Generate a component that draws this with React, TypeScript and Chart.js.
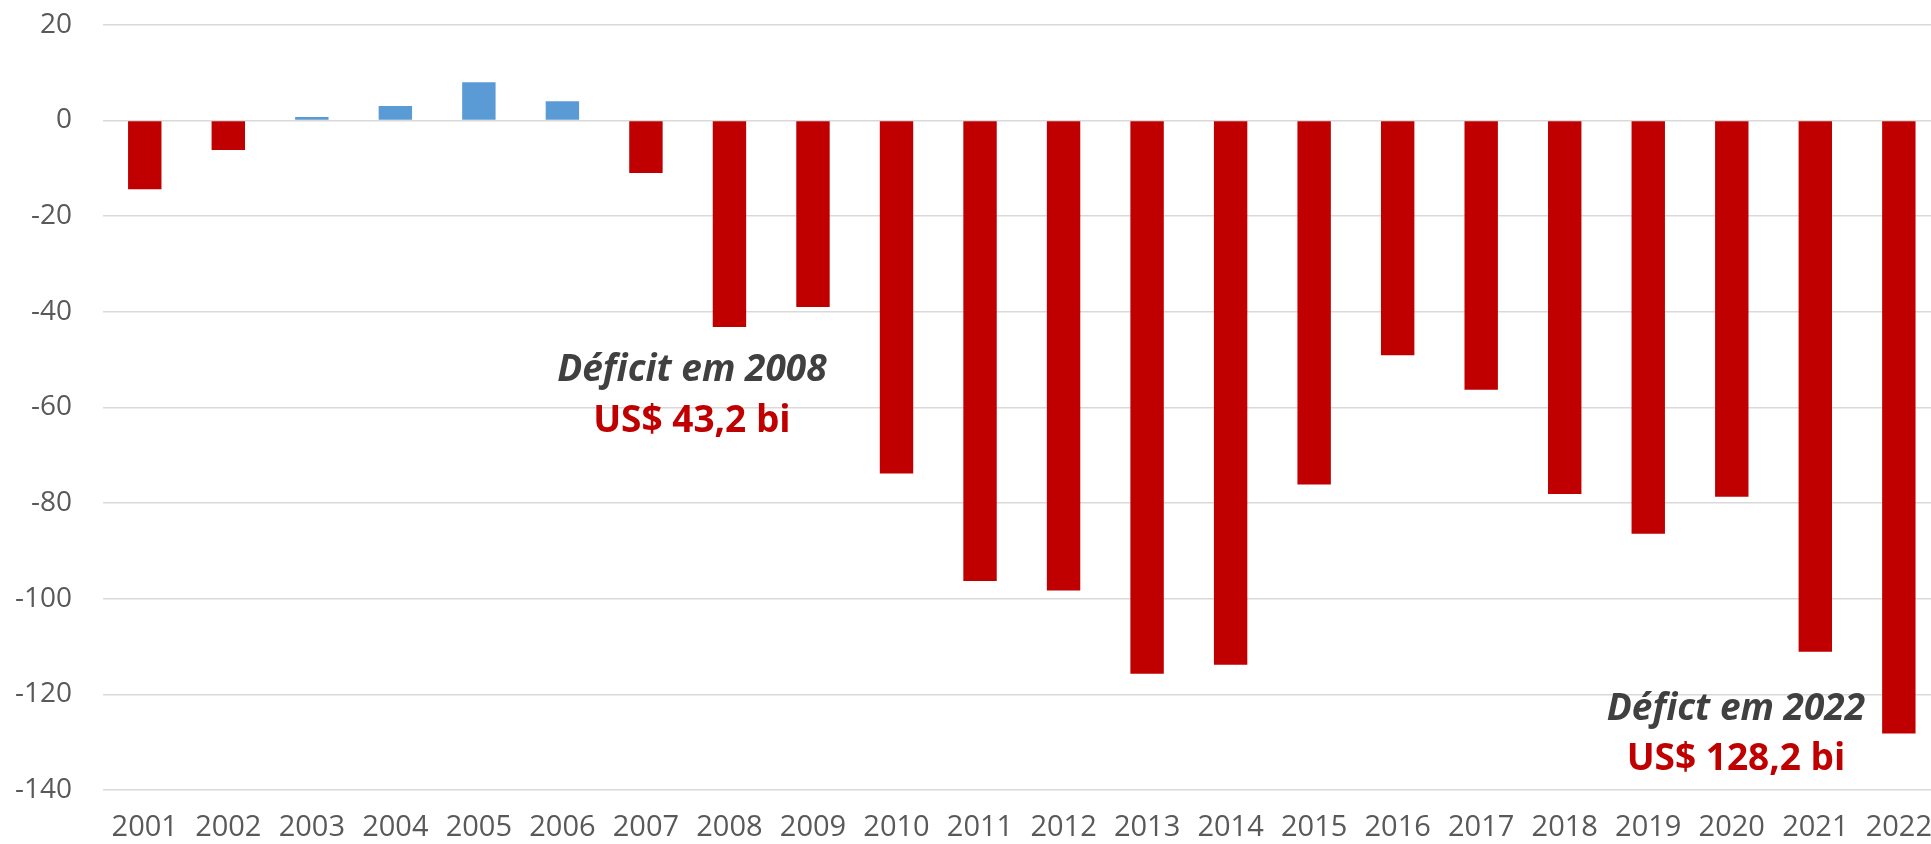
import React, { useEffect, useRef } from "react";
import { Chart, registerables } from "chart.js";

Chart.register(...registerables);

const years = [
  "2001", "2002", "2003", "2004", "2005", "2006", "2007", "2008", "2009", "2010", "2011",
  "2012", "2013", "2014", "2015", "2016", "2017", "2018", "2019", "2020", "2021", "2022",
];
const balance = [
  -14.4, -6.2, 0.7, 3.0, 8.0, 4.0, -11.0, -43.2, -39.0, -73.8, -96.3,
  -98.3, -115.7, -113.8, -76.1, -49.1, -56.3, -78.1, -86.4, -78.7, -111.1, -128.2,
];
const yMin = -140;
const yMax = 20;
const yStep = 20;

const annotationTitles = ["Déficit em 2008", "Défict em 2022"];
const annotationValues = ["US$ 43,2 bi", "US$ 128,2 bi"];
const annotationCategory = [6.55, 19.05];
const annotationTitleY = [-54.4, -125.4];
const annotationValueY = [-65.2, -135.8];

const RED = "#C00000";
const BLUE = "#5B9BD5";
const FONT = "'Open Sans', 'Noto Sans', sans-serif";

const annotationPlugin = {
  id: "textAnnotations",
  afterDatasetsDraw(chart: any) {
    const ctx = chart.ctx;
    const x = chart.scales.x;
    const y = chart.scales.y;
    ctx.save();
    ctx.textAlign = "center";
    ctx.textBaseline = "alphabetic";
    for (let i = 0; i < annotationTitles.length; i++) {
      const px = x.getPixelForValue(annotationCategory[i]);
      ctx.font = `italic bold 37px ${FONT}`;
      ctx.fillStyle = "#404040";
      ctx.fillText(annotationTitles[i], px, y.getPixelForValue(annotationTitleY[i]));
      ctx.font = `bold 37px ${FONT}`;
      ctx.fillStyle = RED;
      ctx.fillText(annotationValues[i], px, y.getPixelForValue(annotationValueY[i]));
    }
    ctx.restore();
  },
};

export default function App() {
  const ref = useRef<HTMLCanvasElement | null>(null);

  useEffect(() => {
    if (!ref.current) return;
    const chart = new Chart(ref.current, {
      type: "bar",
      data: {
        labels: years,
        datasets: [
          {
            data: balance,
            backgroundColor: balance.map((v) => (v < 0 ? RED : BLUE)),
            borderWidth: 0,
            barPercentage: 0.4,
            categoryPercentage: 1,
          },
        ],
      },
      options: {
        responsive: false,
        animation: false,
        layout: { padding: { top: 0, left: 0, right: 0, bottom: 0 } },
        plugins: {
          legend: { display: false },
          tooltip: { enabled: false },
          title: { display: false },
        },
        scales: {
          x: {
            grid: { display: false, drawTicks: false },
            border: { display: false },
            ticks: {
              color: "#595959",
              font: { family: FONT, size: 29 },
              padding: 20,
              maxRotation: 0,
              autoSkip: false,
            },
            afterFit: (scale: any) => {
              scale.height = 54;
            },
          },
          y: {
            min: yMin,
            max: yMax,
            grid: { color: "#d9d9d9", lineWidth: 1.5, drawTicks: false },
            border: { display: false },
            ticks: {
              stepSize: yStep,
              color: "#595959",
              font: { family: FONT, size: 28 },
              padding: 31,
            },
            afterFit: (scale: any) => {
              scale.width = 103;
            },
          },
        },
      },
      plugins: [annotationPlugin],
    });
    return () => chart.destroy();
  }, []);

  return (
    <div style={{ position: "fixed", left: 0, top: -23, background: "#fff" }}>
      <canvas ref={ref} width={1952} height={867} style={{ display: "block" }} />
    </div>
  );
}
